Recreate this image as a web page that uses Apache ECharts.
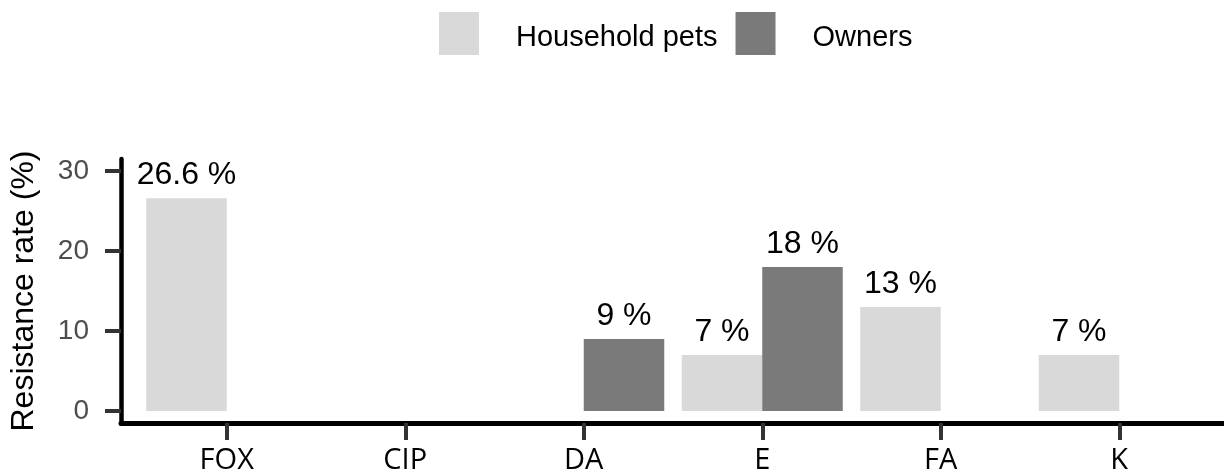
<!DOCTYPE html>
<html><head><meta charset="utf-8">
<script src="https://cdn.jsdelivr.net/npm/echarts@6/dist/echarts.min.js"></script>
<style>html,body{margin:0;padding:0;background:#fff}#c{width:1224px;height:475px}</style>
</head><body><div id="c"></div>
<script>
const categories = ['FOX', 'CIP', 'DA', 'E', 'FA', 'K'];
const householdPets = [26.6, null, null, 7, 13, 7];
const owners = [null, null, 9, 18, null, null];
const yTicks = [0, 10, 20, 30];
const yMin = -1.5, yMax = 31.5;

const chart = echarts.init(document.getElementById('c'), null, {renderer: 'canvas'});
const labelFmt = p => p.value + ' %';
const barLabel = {
  show: true, position: 'top', distance: 7, formatter: labelFmt,
  color: '#000', fontSize: 32, fontFamily: 'Liberation Sans'
};
chart.setOption({
  animation: false,
  legend: {
    left: 434, top: 7, icon: 'rect', itemWidth: 40, itemHeight: 43, itemGap: 18,
    formatter: name => '{t|' + name + '}',
    textStyle: {
      fontSize: 29, fontFamily: 'Liberation Sans', color: '#000',
      rich: {t: {fontSize: 29, fontFamily: 'Liberation Sans', color: '#000', padding: [8, 0, 0, 32]}}
    },
    data: ['Household pets', 'Owners']
  },
  grid: [
    {left: 137.5, right: 15.5, top: 159, bottom: 52},
    {left: 119, right: -2, top: 159, bottom: 52}
  ],
  xAxis: [
    {type: 'category', gridIndex: 0, data: categories,
     axisLine: {show: false, onZero: false},
     axisTick: {show: true, alignWithLabel: true, length: 17, lineStyle: {color: '#333', width: 4}},
     axisLabel: {margin: 23, fontSize: 29, fontFamily: 'Open Sans', color: '#000'},
     splitLine: {show: false}},
    {type: 'value', gridIndex: 1, min: 0, max: 1,
     axisLine: {show: true, onZero: false, lineStyle: {color: '#000', width: 5}},
     axisTick: {show: false}, axisLabel: {show: false}, splitLine: {show: false}}
  ],
  yAxis: [
    {type: 'value', gridIndex: 0, min: yMin, max: yMax, show: false, splitLine: {show: false}},
    {type: 'value', gridIndex: 1, min: yMin, max: yMax,
     name: 'Resistance rate (%)', nameLocation: 'middle', nameGap: 81,
     nameTextStyle: {fontSize: 32, fontFamily: 'Liberation Sans', color: '#000'},
     axisLine: {show: true, onZero: false, lineStyle: {color: '#000', width: 4.5}},
     axisTick: {show: true, customValues: yTicks, length: 16, lineStyle: {color: '#333', width: 4}},
     axisLabel: {customValues: yTicks, margin: 32, fontSize: 28, fontFamily: 'Liberation Sans', color: '#4d4d4d'},
     splitLine: {show: false}}
  ],
  series: [
    {name: 'Household pets', type: 'bar', xAxisIndex: 0, yAxisIndex: 0, data: householdPets,
     barWidth: 80.5, barGap: '0%', itemStyle: {color: '#d9d9d9'}, label: barLabel},
    {name: 'Owners', type: 'bar', xAxisIndex: 0, yAxisIndex: 0, data: owners,
     barWidth: 80.5, barGap: '0%', itemStyle: {color: '#7a7a7a'}, label: barLabel}
  ]
});
</script></body></html>
